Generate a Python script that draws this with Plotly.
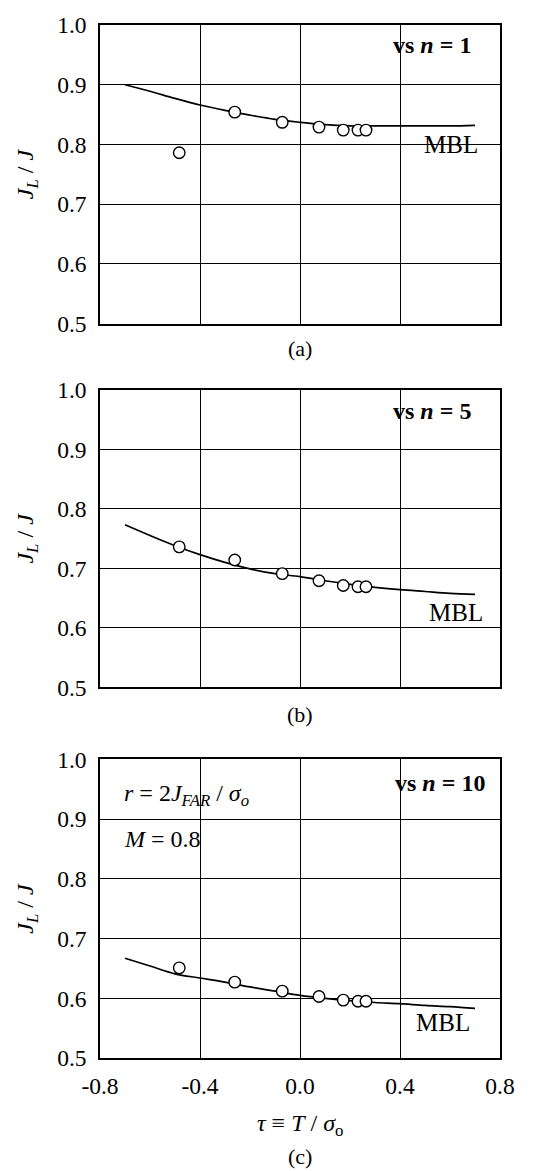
import plotly.graph_objects as go

# ---- data ----
tau_line = [-0.7, -0.6, -0.5, -0.4, -0.3, -0.2, -0.1, 0.0, 0.1, 0.2, 0.3, 0.4, 0.5, 0.6, 0.7]
mbl_a = [0.900, 0.889, 0.877, 0.866, 0.857, 0.849, 0.842, 0.837, 0.833, 0.831, 0.831, 0.831, 0.831, 0.831, 0.832]
mbl_b = [0.773, 0.755, 0.738, 0.723, 0.710, 0.699, 0.691, 0.686, 0.679, 0.673, 0.668, 0.664, 0.661, 0.658, 0.656]
mbl_c = [0.667, 0.654, 0.641, 0.634, 0.627, 0.619, 0.612, 0.605, 0.600, 0.596, 0.593, 0.591, 0.588, 0.586, 0.583]

tau_pts = [-0.483, -0.261, -0.071, 0.076, 0.173, 0.232, 0.264]
pts_a = [0.786, 0.854, 0.837, 0.829, 0.824, 0.824, 0.824]
pts_b = [0.736, 0.714, 0.691, 0.679, 0.671, 0.669, 0.669]
pts_c = [0.651, 0.627, 0.612, 0.603, 0.597, 0.595, 0.595]

panel_labels = ["(a)", "(b)", "(c)"]
n_labels = ["1", "5", "10"]
x_ticks = [-0.8, -0.4, 0.0, 0.4, 0.8]
x_ticktext = ["-0.8", "-0.4", "0.0", "0.4", "0.8"]
y_ticks = [0.5, 0.6, 0.7, 0.8, 0.9, 1.0]
y_ticktext = ["0.5", "0.6", "0.7", "0.8", "0.9", "1.0"]

FONT = "Liberation Serif"
W, H = 545, 1171
ML, MR, MT, MB = 100, 45, 13, 113
PH = H - MT - MB
PW = W - ML - MR

def py(p):
    return (H - MB - p) / PH

def px(p):
    return (p - ML) / PW

panels_px = [(13, 315), (382, 683), (756, 1058)]
series = [mbl_a, mbl_b, mbl_c]
points = [pts_a, pts_b, pts_c]

fig = go.Figure()
for i in range(3):
    sfx = "" if i == 0 else str(i + 1)
    fig.add_trace(go.Scatter(x=tau_line, y=series[i], mode="lines",
                             line=dict(color="black", width=1.7, shape="spline"),
                             xaxis="x" + sfx, yaxis="y" + sfx, showlegend=False))
    fig.add_trace(go.Scatter(x=tau_pts, y=points[i], mode="markers",
                             marker=dict(symbol="circle", size=11.5, color="white",
                                         line=dict(color="black", width=1.4)),
                             xaxis="x" + sfx, yaxis="y" + sfx, showlegend=False))

layout = dict(width=W, height=H, margin=dict(l=ML, r=MR, t=MT, b=MB),
              paper_bgcolor="white", plot_bgcolor="white",
              font=dict(family=FONT, size=23, color="black"))

TICKSIZE = 23.5
annotations = []
for i in range(3):
    sfx = "" if i == 0 else str(i + 1)
    top, bot = panels_px[i]
    xa = dict(range=[-0.8, 0.8], tickvals=x_ticks, ticktext=x_ticktext,
              showgrid=True, gridcolor="black", gridwidth=1, zeroline=False,
              showline=True, linecolor="black", linewidth=1.5, mirror=True,
              ticks="outside", ticklen=6, tickcolor="rgba(0,0,0,0)",
              showticklabels=(i == 2), anchor="y" + sfx,
              tickfont=dict(family=FONT, size=TICKSIZE, color="black"))
    ya = dict(range=[0.5, 1.0], tickvals=y_ticks, ticktext=y_ticktext,
              domain=[py(bot), py(top)],
              showgrid=True, gridcolor="black", gridwidth=1, zeroline=False,
              showline=True, linecolor="black", linewidth=1.5, mirror=True,
              ticks="outside", ticklen=7, tickcolor="rgba(0,0,0,0)",
              anchor="x" + sfx,
              tickfont=dict(family=FONT, size=TICKSIZE, color="black"))
    layout["xaxis" + sfx] = xa
    layout["yaxis" + sfx] = ya

    # y title
    annotations.append(dict(text="<i>J<sub>L</sub></i> / <i>J</i>", textangle=-90,
                            xref="paper", yref="paper", x=px(27), y=py((top + bot) / 2),
                            xanchor="center", yanchor="middle", showarrow=False,
                            font=dict(family=FONT, size=24)))
    # MBL labels
    mbl_pos = [(0.604, 0.800), (0.623, 0.625), (0.570, 0.559)][i]
    annotations.append(dict(text="MBL", xref="x" + sfx, yref="y" + sfx,
                            x=mbl_pos[0], y=mbl_pos[1], showarrow=False,
                            xanchor="center", yanchor="middle",
                            font=dict(family=FONT, size=25)))
    # vs n labels
    vs_pos = [(0.692, 0.967), (0.692, 0.964), (0.747, 0.960)][i]
    annotations.append(dict(text="<b>vs <i>n</i> = " + n_labels[i] + "</b>",
                            xref="x" + sfx, yref="y" + sfx,
                            x=vs_pos[0], y=vs_pos[1], showarrow=False,
                            xanchor="right", yanchor="middle",
                            font=dict(family=FONT, size=24)))

# panel labels
for lab, ypx in zip(panel_labels, [340, 711, 1158]):
    annotations.append(dict(text=lab, xref="paper", yref="paper", x=px(300), y=py(ypx),
                            xanchor="center", yanchor="middle", showarrow=False,
                            font=dict(family=FONT, size=22)))

# x title
annotations.append(dict(text="<i>τ</i> ≡ <i>T</i> / <i>σ</i><sub>o</sub>",
                        xref="paper", yref="paper", x=px(300), y=py(1126),
                        xanchor="center", yanchor="middle", showarrow=False,
                        font=dict(family=FONT, size=24)))

# panel (c) notes
annotations.append(dict(text="<i>r</i> = 2<i>J</i><sub><i>FAR</i></sub> / <i>σ<sub>o</sub></i>",
                        xref="x3", yref="y3", x=-0.713, y=0.941, showarrow=False,
                        xanchor="left", yanchor="middle", font=dict(family=FONT, size=24)))
annotations.append(dict(text="<i>M</i> = 0.8",
                        xref="x3", yref="y3", x=-0.713, y=0.866, showarrow=False,
                        xanchor="left", yanchor="middle", font=dict(family=FONT, size=24)))

layout["annotations"] = annotations
fig.update_layout(**layout)
fig.write_html("out.html")
